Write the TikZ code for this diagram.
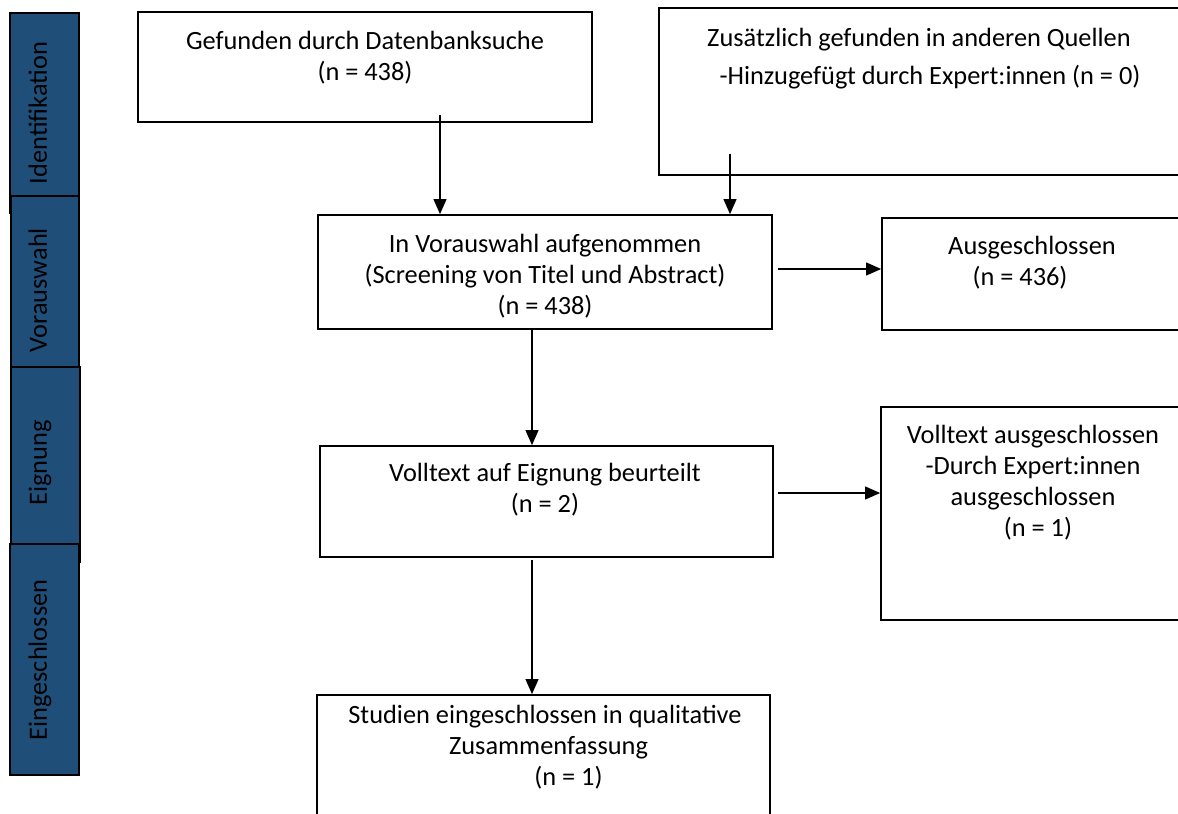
\documentclass[tikz,border=0pt]{standalone}
\usepackage{fontspec}
\setmainfont{Carlito}
\usetikzlibrary{positioning}
\usetikzlibrary{arrows.meta}
\definecolor{stageblue}{RGB}{31,78,121}
\newcommand{\pxu}{0.02cm}
\tikzset{
  stage/.style={draw=black, line width=1pt, fill=stageblue, inner sep=0pt, minimum width=69*\pxu},
  stagetext/.style={rotate=90, anchor=base, inner sep=0pt, font=\fontsize{15pt}{18pt}\selectfont},
  box/.style={draw=black, line width=1pt, inner sep=0pt},
  boxtext/.style={align=center, anchor=base, inner sep=0pt, font=\fontsize{15pt}{17.8pt}\selectfont},
  flow/.style={-{Triangle[length=0.3cm, width=0.26cm]}, line width=0.6pt}
}
\begin{document}
\begin{tikzpicture}[x=0.02cm, y=-0.02cm]
    \clip (0,0) rectangle (1178,814);
    % phases on the left
    \node[stage, minimum height=200*\pxu] (ident) at (44.5,113) {};
    \node[stage, minimum width=68*\pxu, minimum height=187*\pxu] (vorstage) at (45,289.5) {};
    \node[stage, minimum height=195*\pxu] (eigstage) at (45.5,464.5) {};
    \node[stage, minimum height=231*\pxu] (einstage) at (44.5,659.5) {};
    \node[stagetext] (identT) at (47,113) {Identifikation};
    \node[stagetext] (vorT) at (47,290) {Vorauswahl};
    \node[stagetext] (eigT) at (47,463) {Eignung};
    \node[stagetext] (einT) at (47,660) {Eingeschlossen};
    % boxes (text placed by the baseline of its last line)
    \node[box, minimum width=454*\pxu, minimum height=110*\pxu] (found) at (365,67) {};
    \node[box, minimum width=522*\pxu, minimum height=167*\pxu] (extra) at (920,91.5) {};
    \node[box, minimum width=454*\pxu, minimum height=114*\pxu] (screen) at (545,272) {};
    \node[box, minimum width=300*\pxu, minimum height=112*\pxu] (excl) at (1032,274) {};
    \node[box, minimum width=453*\pxu, minimum height=111*\pxu] (full) at (546.5,501.5) {};
    \node[box, minimum width=304*\pxu, minimum height=213*\pxu] (fullexcl) at (1033,513.5) {};
    \node[box, minimum width=453*\pxu, minimum height=140*\pxu] (incl) at (543.5,765) {};
    \node[boxtext] (foundT) at (365,81) {Gefunden durch Datenbanksuche\\(n = 438)};
    \node[boxtext] (extraT) at (919,85) {Zusätzlich gefunden in anderen Quellen\\[4pt]\hspace*{0.44cm}-Hinzugefügt durch Expert:innen (n = 0)};
    \node[boxtext] (screenT) at (545,315) {In Vorauswahl aufgenommen\\(Screening von Titel und Abstract)\\(n = 438)};
    \node[boxtext] (exclT) at (1032,286) {Ausgeschlossen\\(n = 436)\hspace*{0.48cm}};
    \node[boxtext] (fullT) at (545,513) {Volltext auf Eignung beurteilt\\(n = 2)};
    \node[boxtext] (fullexclT) at (1033,537) {Volltext ausgeschlossen\\-Durch Expert:innen\\ausgeschlossen\\\hspace*{0.2cm}(n = 1)};
    \node[boxtext] (inclT) at (545,786) {Studien eingeschlossen in qualitative\\\hspace*{0.14cm}Zusammenfassung\\\hspace*{0.94cm}(n = 1)};
    % arrows
    \coordinate (foundout) at (440,115);
    \draw[flow] (foundout) -- (foundout |- screen.north);
    \coordinate (extraout) at (730,154);
    \draw[flow] (extraout) -- (extraout |- screen.north);
    \coordinate (screenout) at (778,269);
    \draw[flow] (screenout) -- (screenout -| excl.west);
    \draw[flow] ([xshift=-13*\pxu]screen.south) coordinate (screendown) -- (screendown |- full.north);
    \coordinate (fullout) at (778,493);
    \draw[flow] (fullout) -- (fullout -| fullexcl.west);
    \coordinate (fulldown) at (532,560);
    \draw[flow] (fulldown) -- (fulldown |- incl.north);
\end{tikzpicture}
\end{document}
